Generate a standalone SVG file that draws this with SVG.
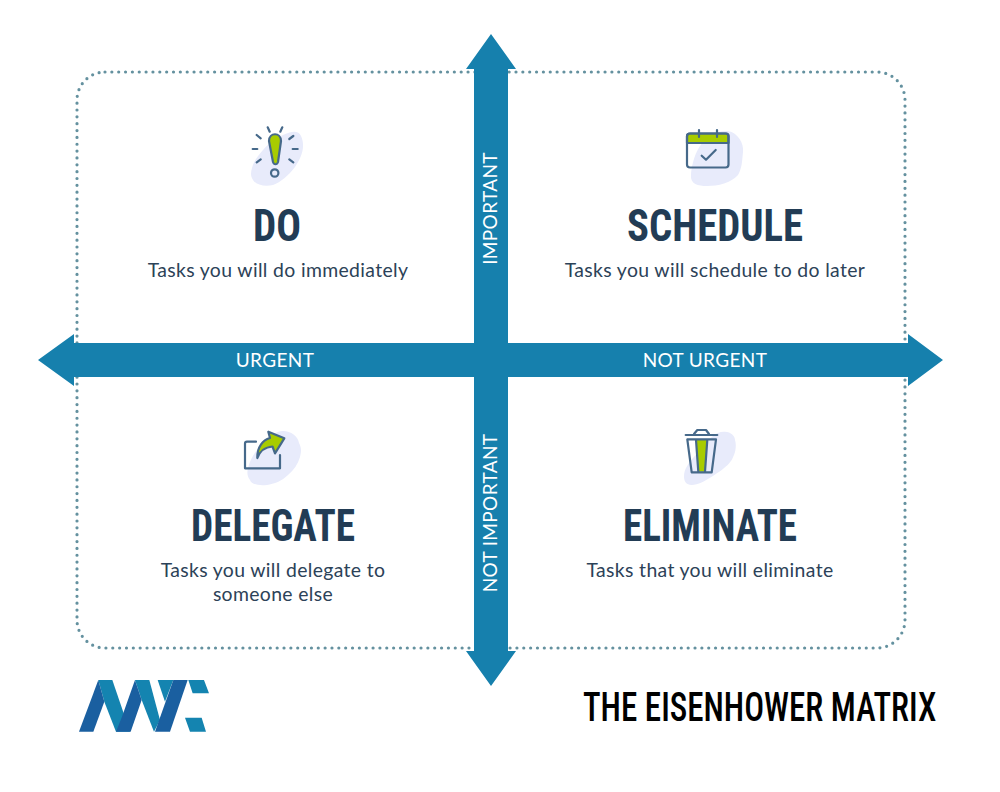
<svg xmlns="http://www.w3.org/2000/svg" width="1000" height="792" viewBox="0 0 1000 792">
<style>
.h{font-family:"Liberation Sans Narrow","Roboto Condensed","Liberation Sans",sans-serif;font-weight:700;fill:#223c55;text-anchor:middle}
.b{font-family:Lato,"Open Sans",sans-serif;font-size:19.4px;fill:#2c4258;text-anchor:middle;letter-spacing:.35px}
.a{font-family:Lato,"Open Sans",sans-serif;font-size:19px;fill:#fff;text-anchor:middle;letter-spacing:.35px}
.ic{fill:none;stroke:#46698a;stroke-width:2.2;stroke-linecap:round;stroke-linejoin:round}
.g{fill:#a8cc00;stroke:#46698a;stroke-width:2.2;stroke-linejoin:round}
.blob{fill:#e8ebfb}
.ld{fill:#1a5fa0}.ll{fill:#1484b0}
</style>
<rect width="1000" height="792" fill="#fff"/>
<g id="connectors">
<rect x="77" y="72" width="828" height="576" rx="28" fill="none" stroke="#64919f" stroke-width="3.2" stroke-linecap="round" stroke-dasharray="0 6.85"/>
<path d="M491 34L516 69H508V343H908V334L943 360L908 386V377H508V651H516L491 686L466 651H474V377H74V386L38 360L74 334V343H474V69H466Z" fill="#1680ad"/>
</g>
<g id="axis-labels">
<text class="a" transform="translate(497,208.500) rotate(-90)">IMPORTANT</text>
<text class="a" transform="translate(497,513) rotate(-90)">NOT IMPORTANT</text>
<text class="a" x="275" y="367">URGENT</text>
<text class="a" x="705" y="367">NOT URGENT</text>
</g>
<g id="do">
<path class="blob" d="M283 135C290 132 298 129 301 136C306 147 301 158 295 167C288 176 281 182 273 185C265 187 256 185 253 180C250 175 251 172 252 168C254 160 259 155 263 150C268 144 276 138 283 135Z"/>
<path class="g" d="M269 141C269 132 281 132 281 141L278 162C277 165 274 165 273 162Z"/>
<circle class="ic" cx="274.700" cy="173" r="3.700"/>
<path class="ic" d="M267.700 127.300L269.700 131.700M282.300 127.300L280.300 131.700M256.700 135L260.700 138.300M293.300 136L289.300 139M252.700 149H257.300M292.700 149H297.700M256.700 162.300L260.700 159.300M289.300 159.300L293.300 162.300"/>
<text class="h" x="277" y="241" font-size="44" textLength="48" lengthAdjust="spacingAndGlyphs">DO</text>
<text class="b" x="278" y="276.500">Tasks you will do immediately</text>
</g>
<g id="schedule">
<path class="blob" d="M728 131C738 133 744 143 743 152C742 162 742 168 738 175C731 183 718 186 707 186C698 186 690 184 691 175C692 160 700 130 728 131Z"/>
<path class="g" d="M687 143V136Q687 133.500 690 133.500H726Q728.500 133.500 728.500 136V143Z"/>
<rect class="ic" x="687" y="133.500" width="41.500" height="34" rx="3"/>
<path class="ic" d="M699 130V137M717 130V137M701.700 155.700L706 159.700L715.700 150"/>
<text class="h" x="715" y="241" font-size="44" textLength="176" lengthAdjust="spacingAndGlyphs">SCHEDULE</text>
<text class="b" x="715" y="276.500">Tasks you will schedule to do later</text>
</g>
<g id="delegate">
<path class="blob" d="M283 431C291 431 298 436 299 443C302 449 301 452 300 457C298 464 294 470 288 475C282 481 274 484 267 485C258 486 251 484 250 480C247 476 247 472 248 468C250 459 256 450 263 443C269 437 276 431 283 431Z"/>
<path class="ic" d="M256 441.700H247Q245 441.700 245 443.700V468.300H280V455"/>
<path class="g" d="M257.300 458C257 447 263 440 270 438L268.300 431.700L284.300 438.300L275 453.300L272.500 446.500C265 447 259.500 452 257.300 458Z"/>
<text class="h" x="273" y="541" font-size="44" textLength="164" lengthAdjust="spacingAndGlyphs">DELEGATE</text>
<text class="b" x="273" y="576.500">Tasks you will delegate to</text>
<text class="b" x="273" y="600.500">someone else</text>
</g>
<g id="eliminate">
<path class="blob" d="M725 431.700C731 432 735 436 735 440C737 447 735 454 731.700 460C727 467 719 472 711.700 476.700C705 481 698 485 691.700 485C686 485 684 481 684 476.700C684 472 685 470 686.700 466.700C691 459 698 453 703 446.700C709 439 716 431 725 431.700Z"/>
<path d="M696 440H707.300L705 471.700H698.300Z" fill="#a8cc00"/>
<path class="ic" d="M685.700 435H717.300M694 434L697.300 430H706L709 434M687.300 439.300H716L711.700 472.300H691.700ZM696 440L698.300 471.700M707.300 440L705 471.700"/>
<text class="h" x="710" y="541" font-size="44" textLength="174" lengthAdjust="spacingAndGlyphs">ELIMINATE</text>
<text class="b" x="710" y="576.500">Tasks that you will eliminate</text>
</g>
<g id="logo" transform="translate(60,660) scale(.3333)">
<path class="ll" d="M115 60H157L210 215H168L133 125Z"/>
<path class="ld" d="M57 215H100L133 125L115 60Z"/>
<path class="ll" d="M225 60H268L300 180L282 215L245 120Z"/>
<path class="ld" d="M168 215H212L245 120L225 60L186 170Z"/>
<path class="ll" d="M293 60H340L315 125Z"/>
<path class="ld" d="M285 215H330L383 60H340Z"/>
<path class="ll" d="M385 60H432L447 100H398ZM375 173H425L438 215H390Z"/>
</g>
<g id="title">
<text transform="translate(583,721) scale(.92,1)" font-family="Roboto,'Liberation Sans',sans-serif" font-stretch="condensed" font-size="40" font-weight="500" fill="#000" textLength="384" lengthAdjust="spacingAndGlyphs">THE EISENHOWER MATRIX</text>
</g>
</svg>
